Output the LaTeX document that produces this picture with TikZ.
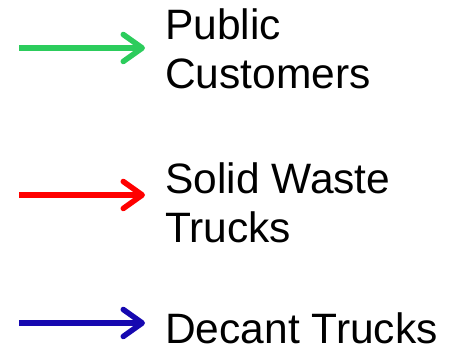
\documentclass[tikz,border=0pt]{standalone}
\usepackage{fontspec}
\setmainfont{Liberation Sans}
\usetikzlibrary{arrows.meta}

\definecolor{keygreen}{RGB}{44,204,92}
\definecolor{keyred}{RGB}{255,0,0}
\definecolor{keyblue}{RGB}{22,8,176}

\begin{document}
\begin{tikzpicture}[
  x=1pt, y=1pt,
  every node/.style = {inner sep=0pt, align=left, anchor=base west,
    font=\fontsize{42.5}{49}\selectfont},
  KeyArrow/.style = {line width=5.5pt,
    -{Straight Barb[length=19pt,width=27pt,line cap=round,line join=round]}}
  ]
  \useasboundingbox (0,0) rectangle (459,352);

  % legend labels (anchored on the last line)
  \node (public) at (165,263) {Public\\Customers};
  \node (solid)  at (165,109) {Solid Waste\\Trucks};
  \node (decant) at (165,8)   {Decant Trucks};

  % arrow ends
  \coordinate (publicA) at (19,304);
  \coordinate (publicB) at (145,304);
  \coordinate (solidA)  at (19,157);
  \coordinate (solidB)  at (145,157);
  \coordinate (decantA) at (19,29);
  \coordinate (decantB) at (145,29);

  \draw[KeyArrow, keygreen] (publicA) -- (publicB);
  \draw[KeyArrow, keyred]   (solidA) -- (solidB);
  \draw[KeyArrow, keyblue]  (decantA) -- (decantB);

\end{tikzpicture}
\end{document}
